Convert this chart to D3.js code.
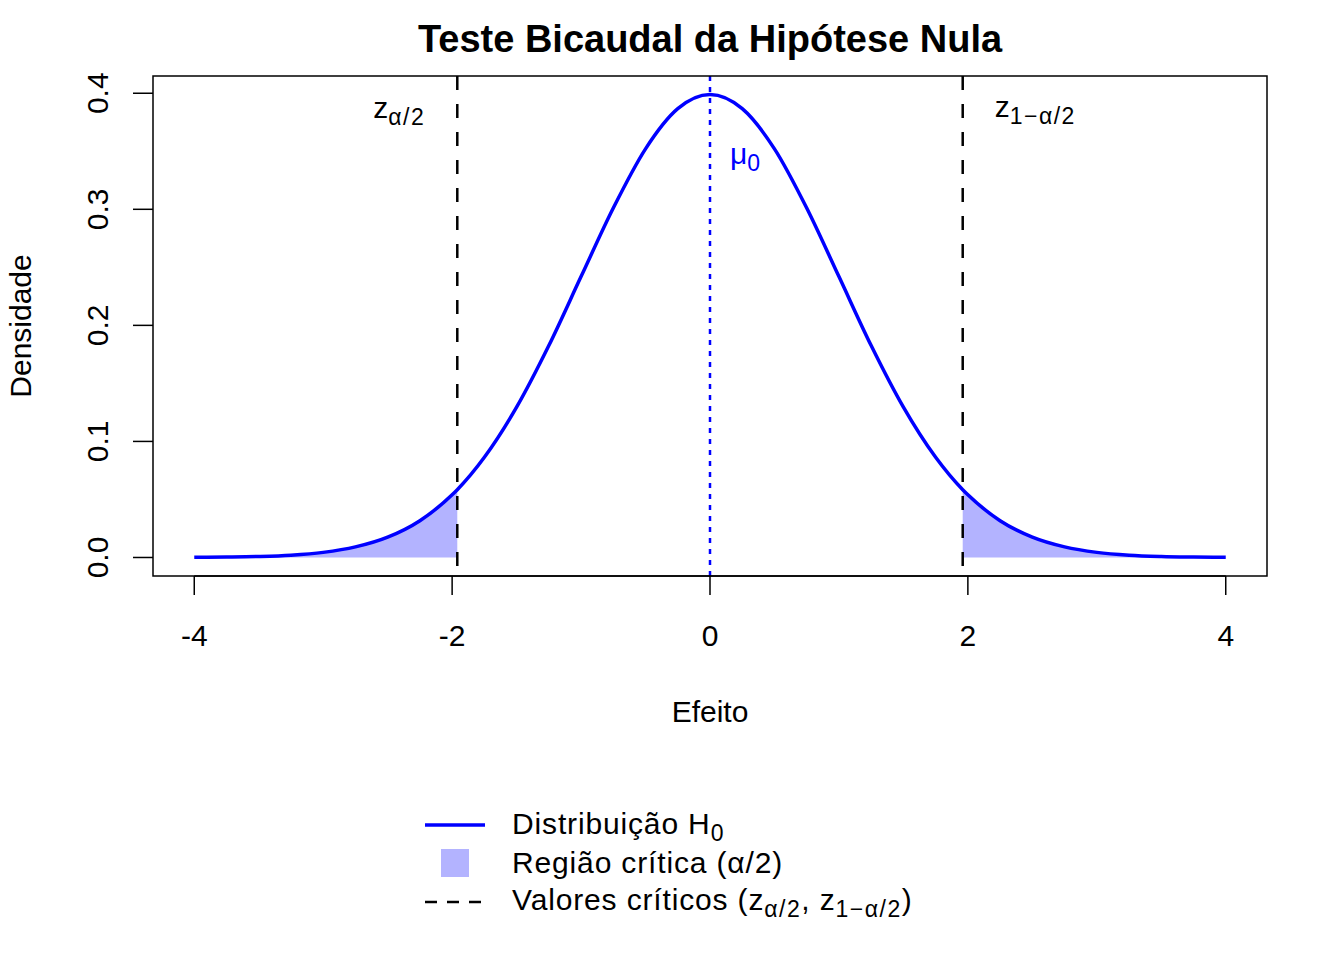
<!DOCTYPE html>
<html>
<head>
<meta charset="utf-8">
<script src="https://cdn.jsdelivr.net/npm/d3@7"></script>
<style>
  body { margin: 0; background: #fff; }
  svg text { font-family: "Liberation Sans", Arial, Helvetica, sans-serif; fill: #000; }
</style>
</head>
<body>
<svg id="chart" width="1344" height="960"></svg>
<script>
// Data
const curveX = [-4, -3.75, -3.5, -3.25, -3, -2.75, -2.5, -2.25, -2, -1.96, -1.75, -1.5, -1.25, -1, -0.75, -0.5, -0.25,
                0, 0.25, 0.5, 0.75, 1, 1.25, 1.5, 1.75, 1.96, 2, 2.25, 2.5, 2.75, 3, 3.25, 3.5, 3.75, 4];
const curveY = [0.0001, 0.0004, 0.0009, 0.0020, 0.0044, 0.0091, 0.0175, 0.0317, 0.0540, 0.0584, 0.0863, 0.1295, 0.1826, 0.2420, 0.3011, 0.3521, 0.3867,
                0.3989, 0.3867, 0.3521, 0.3011, 0.2420, 0.1826, 0.1295, 0.0863, 0.0584, 0.0540, 0.0317, 0.0175, 0.0091, 0.0044, 0.0020, 0.0009, 0.0004, 0.0001];
const criticalValues = [-1.96, 1.96];
const meanValue = 0;
const xTicks = [-4, -2, 0, 2, 4];
const yTicks = [0, 0.1, 0.2, 0.3, 0.4];

const points = curveX.map((x, i) => ({ x, y: curveY[i] }));

const svg = d3.select('#chart');
const pL = 153, pR = 1267, pT = 76, pB = 576;
const fs = 30, fsSub = 23;

// R-style 4% padding
const xPad = (4 - -4) * 0.04, yPad = 0.3989 * 0.04;
const x = d3.scaleLinear().domain([-4 - xPad, 4 + xPad]).range([pL, pR]);
const y = d3.scaleLinear().domain([0 - yPad, 0.3989 + yPad]).range([pB, pT]);

const blue = '#0000ff', shade = '#b3b3ff';

// shaded tails
const area = d3.area().x(d => x(d.x)).y0(y(0)).y1(d => y(d.y)).curve(d3.curveMonotoneX);
svg.append('path').datum(points.filter(d => d.x <= criticalValues[0]))
  .attr('d', area).attr('fill', shade);
svg.append('path').datum(points.filter(d => d.x >= criticalValues[1]))
  .attr('d', area).attr('fill', shade);

// density curve
const line = d3.line().x(d => x(d.x)).y(d => y(d.y)).curve(d3.curveMonotoneX);
svg.append('path').datum(points).attr('d', line)
  .attr('fill', 'none').attr('stroke', blue).attr('stroke-width', 3.5);

// critical value lines
svg.selectAll('line.crit').data(criticalValues).enter().append('line')
  .attr('class', 'crit')
  .attr('x1', d => x(d)).attr('x2', d => x(d))
  .attr('y1', pT).attr('y2', pB)
  .attr('stroke', '#000').attr('stroke-width', 2.5).attr('stroke-dasharray', '14,14');

// mean line
svg.append('line')
  .attr('x1', x(meanValue)).attr('x2', x(meanValue))
  .attr('y1', pT).attr('y2', pB)
  .attr('stroke', blue).attr('stroke-width', 2.5).attr('stroke-dasharray', '5,6');

// box
svg.append('rect').attr('x', pL).attr('y', pT)
  .attr('width', pR - pL).attr('height', pB - pT)
  .attr('fill', 'none').attr('stroke', '#000').attr('stroke-width', 1.5);

// x axis
const xAxis = svg.append('g');
xAxis.append('line').attr('x1', x(-4)).attr('x2', x(4)).attr('y1', pB).attr('y2', pB)
  .attr('stroke', '#000').attr('stroke-width', 1.5);
xAxis.selectAll('line.t').data(xTicks).enter().append('line').attr('class', 't')
  .attr('x1', d => x(d)).attr('x2', d => x(d)).attr('y1', pB).attr('y2', pB + 19)
  .attr('stroke', '#000').attr('stroke-width', 1.5);
xAxis.selectAll('text').data(xTicks).enter().append('text')
  .attr('x', d => x(d)).attr('y', 646).attr('text-anchor', 'middle')
  .style('font-size', fs + 'px').text(d => d);

// y axis
const yAxis = svg.append('g');
yAxis.selectAll('line.t').data(yTicks).enter().append('line').attr('class', 't')
  .attr('x1', pL - 20).attr('x2', pL).attr('y1', d => y(d)).attr('y2', d => y(d))
  .attr('stroke', '#000').attr('stroke-width', 1.5);
yAxis.selectAll('text').data(yTicks).enter().append('text')
  .attr('transform', d => `translate(108,${y(d)}) rotate(-90)`)
  .attr('text-anchor', 'middle')
  .style('font-size', fs + 'px').text(d => d.toFixed(1));

// titles
svg.append('text').attr('x', (pL + pR) / 2).attr('y', 52).attr('text-anchor', 'middle')
  .style('font-size', '38px').style('font-weight', 'bold').text('Teste Bicaudal da Hipótese Nula');
svg.append('text').attr('x', (pL + pR) / 2).attr('y', 722).attr('text-anchor', 'middle')
  .style('font-size', fs + 'px').text('Efeito');
svg.append('text').attr('transform', `translate(31,${(pT + pB) / 2}) rotate(-90)`)
  .attr('text-anchor', 'middle').style('font-size', fs + 'px').text('Densidade');

// annotations
function zLabel(g, xPos, yPos, parts, anchor, color) {
  const t = g.append('text').attr('x', xPos).attr('y', yPos).attr('text-anchor', anchor)
    .style('font-size', fs + 'px').style('fill', color);
  t.append('tspan').text(parts[0]);
  t.append('tspan').attr('dy', 7).style('font-size', fsSub + 'px').style('letter-spacing', '1.5px').text(parts[1]);
  return t;
}
zLabel(svg, x(criticalValues[0]) - 32, 118, ['z', 'α/2'], 'end', '#000');
zLabel(svg, x(criticalValues[1]) + 32, 117, ['z', '1−α/2'], 'start', '#000');
zLabel(svg, x(meanValue) + 20, 164, ['μ', '0'], 'start', blue);

// legend
const lg = svg.append('g').style('letter-spacing', '0.85px');
const lx = 425, tx = 512;
lg.append('line').attr('x1', lx).attr('x2', lx + 60).attr('y1', 825).attr('y2', 825)
  .attr('stroke', blue).attr('stroke-width', 3.5);
lg.append('rect').attr('x', 441).attr('y', 849).attr('width', 28).attr('height', 28).attr('fill', shade);
lg.append('line').attr('x1', lx).attr('x2', lx + 60).attr('y1', 902).attr('y2', 902)
  .attr('stroke', '#000').attr('stroke-width', 2.5).attr('stroke-dasharray', '12,10');

const t1 = lg.append('text').attr('x', tx).attr('y', 834).style('font-size', fs + 'px');
t1.append('tspan').text('Distribuição H');
t1.append('tspan').attr('dy', 7).style('font-size', fsSub + 'px').text('0');
lg.append('text').attr('x', tx).attr('y', 873).style('font-size', fs + 'px').text('Região crítica (α/2)');
const t3 = lg.append('text').attr('x', tx).attr('y', 910).style('font-size', fs + 'px');
t3.append('tspan').text('Valores críticos (z');
t3.append('tspan').attr('dy', 7).style('font-size', fsSub + 'px').style('letter-spacing', '1.5px').text('α/2');
t3.append('tspan').attr('dy', -7).text(', z');
t3.append('tspan').attr('dy', 7).style('font-size', fsSub + 'px').style('letter-spacing', '1.5px').text('1−α/2');
t3.append('tspan').attr('dy', -7).text(')');
</script>
</body>
</html>
